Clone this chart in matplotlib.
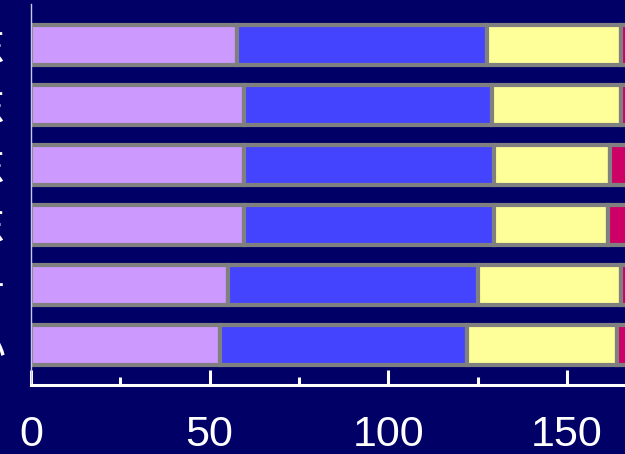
import matplotlib
matplotlib.use('Agg')
import matplotlib.pyplot as plt
from matplotlib.ticker import MultipleLocator

# rows listed from top to bottom
labels = ['华东', '山东', '广东', '辽东', '编号', '大小']
seg_a = [57.8, 59.5, 59.5, 59.5, 55.2, 52.8]
seg_b = [69.9, 69.5, 70.1, 70.1, 70.0, 69.3]
seg_c = [37.6, 36.3, 32.4, 31.8, 40.1, 41.9]
seg_d = [10, 10, 12, 12, 10, 10]
xticks = [0, 50, 100, 150]
colors = ['#CC99FF', '#4444FF', '#FFFF99', '#CC0066']

bg = '#000066'
plt.rcParams['font.family'] = ['Liberation Sans', 'Noto Sans CJK SC', 'DejaVu Sans']

fig = plt.figure(figsize=(6.25, 4.54), dpi=100, facecolor=bg)
ax = fig.add_axes([31 / 625, 69 / 454, 200 * 3.572 / 625, 381 / 454])
ax.set_facecolor(bg)

pos = list(range(len(labels)))[::-1]
left = [0] * len(labels)
for seg, c in zip([seg_a, seg_b, seg_c, seg_d], colors):
    ax.barh(pos, seg, left=left, height=0.667, color=c,
            edgecolor='#808080', linewidth=3)
    left = [l + s for l, s in zip(left, seg)]

ax.set_xlim(0, 200)
ax.set_ylim(-0.665, 5.675)
ax.set_yticks(pos)
ax.set_yticklabels(labels, family=['Noto Sans CJK SC', 'DejaVu Sans'])
ax.set_xticks(xticks)
ax.xaxis.set_minor_locator(MultipleLocator(25))

ax.tick_params(axis='x', which='major', direction='in', length=11, width=2.2,
               color='white', labelcolor='white', labelsize=31, pad=21.5)
ax.tick_params(axis='x', which='minor', direction='in', length=6, width=2.2,
               color='white')
ax.tick_params(axis='y', length=0, labelcolor='white', labelsize=29, pad=18)

for s in ['top', 'right']:
    ax.spines[s].set_visible(False)
ax.spines['bottom'].set_color('white')
ax.spines['bottom'].set_linewidth(2.2)
ax.spines['left'].set_color('#C8C8E8')
ax.spines['left'].set_linewidth(1)

fig.savefig('out.png', dpi=100, facecolor=bg)
